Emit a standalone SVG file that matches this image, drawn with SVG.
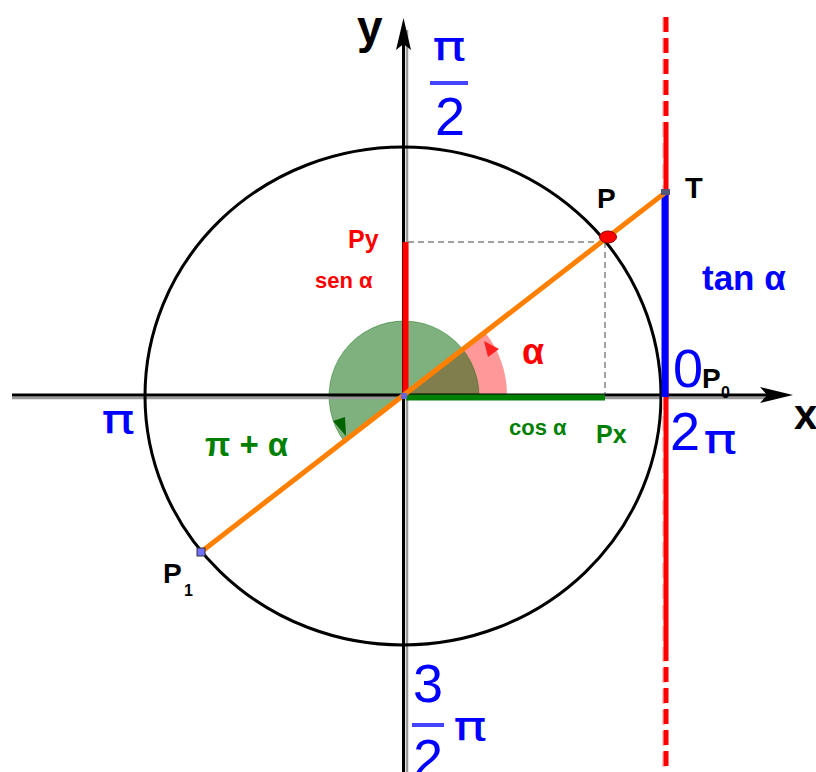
<svg xmlns="http://www.w3.org/2000/svg" width="816" height="772" viewBox="0 0 816 772">
<style>
.lbl{font-family:"Liberation Sans",Arial,sans-serif;font-weight:bold}
.blue{font-family:"Liberation Sans",Arial,sans-serif;fill:#0000ff;text-anchor:middle}
.pi{font-family:"DejaVu Sans",sans-serif;fill:#0000ff;text-anchor:middle;font-size:40px}
.red{fill:#ff0000}
.grn{fill:#008000}
.blk{fill:#000}
.dash{stroke:#444;stroke-width:1;stroke-dasharray:6 4;fill:none}
</style>
<rect width="816" height="772" fill="#fff"/>
<g id="sectors">
<path d="M404,396 L507,396 A103,103 0 0 0 485.2,332.5 Z" fill="#ff0000" fill-opacity="0.4"/>
<polygon points="484,341 499,349 488,357" fill="#ff2020"/>
<path d="M404,396 L479,396 A75,75 0 1 0 344.9,442.2 Z" fill="#006400" fill-opacity="0.5" stroke="#006400" stroke-opacity="0.4" stroke-width="1"/>
<polygon points="333,421 345,417 346,436" fill="#006400"/>
</g>
<g id="axes">
<line x1="12" y1="398" x2="775" y2="398" stroke="#999" stroke-width="2.5"/>
<line x1="12" y1="395" x2="770" y2="395" stroke="#000" stroke-width="3"/>
<polygon points="793,395 760,387 767,395 760,403" fill="#000"/>
<line x1="407" y1="30" x2="407" y2="772" stroke="#999" stroke-width="2.5"/>
<line x1="403.5" y1="44" x2="403.5" y2="772" stroke="#000" stroke-width="3"/>
<polygon points="403.5,18 396,50 403.5,44 411,50" fill="#000"/>
</g>
<g id="circle">
<ellipse cx="403" cy="396" rx="258" ry="249" fill="none" stroke="#000" stroke-width="3"/>
</g>
<g id="tangent">
<line x1="664" y1="17" x2="664" y2="772" stroke="#ffcccc" stroke-width="4" stroke-dasharray="15 6"/>
<line x1="666" y1="17" x2="666" y2="131" stroke="#ff0000" stroke-width="5" stroke-dasharray="15 6"/>
<line x1="666" y1="131" x2="666" y2="661" stroke="#ff0000" stroke-width="5"/>
<line x1="666" y1="667" x2="666" y2="772" stroke="#ff0000" stroke-width="5" stroke-dasharray="15 6"/>
<line x1="665" y1="193" x2="665" y2="397" stroke="#0000ff" stroke-width="7"/>
</g>
<g id="projections">
<line class="dash" x1="408" y1="242" x2="605" y2="242"/>
<line class="dash" x1="605" y1="242" x2="605" y2="394"/>
<line x1="405.5" y1="242" x2="405.5" y2="399" stroke="#ff0000" stroke-width="6"/>
<line x1="406" y1="397.5" x2="605" y2="397.5" stroke="#008000" stroke-width="6"/>
</g>
<g id="radius-line">
<line x1="201" y1="552" x2="666" y2="192" stroke="#ff8000" stroke-width="5"/>
</g>
<g id="points">
<rect x="401" y="393" width="6" height="6" fill="#6666dd"/>
<rect x="197" y="548" width="8" height="8" fill="#7070ff" stroke="#333" stroke-width="1"/>
<rect x="661" y="189" width="9" height="6" fill="#555577"/>
<ellipse cx="608" cy="237" rx="8.5" ry="6" fill="#ff0000" stroke="#800" stroke-width="1"/>
</g>
<g id="labels">
<text class="lbl blk" x="357" y="43" font-size="46">y</text>
<text class="lbl blk" x="794" y="429" font-size="42">x</text>
<text class="lbl blk" x="597" y="208" font-size="28">P</text>
<text class="lbl blk" x="685" y="198" font-size="29">T</text>
<text class="lbl blk" x="163" y="583" font-size="28">P</text>
<text class="lbl blk" x="184" y="596" font-size="16">1</text>
<text class="lbl blk" x="702" y="388" font-size="28">P</text>
<text class="lbl blk" x="721" y="398" font-size="16">0</text>
<text class="lbl red" x="348" y="248" font-size="25">Py</text>
<text class="lbl red" x="315" y="288" font-size="22">sen α</text>
<text class="lbl red" x="522" y="364" font-size="36">α</text>
<text class="lbl grn" x="509" y="435" font-size="22">cos α</text>
<text class="lbl grn" x="596" y="443" font-size="25">Px</text>
<text class="lbl grn" x="205" y="456" font-size="33">π + α</text>
<text class="lbl" x="702" y="290" font-size="35" fill="#0000ff">tan α</text>
<text class="pi" transform="translate(449,60) scale(1.4,1)">π</text>
<rect x="430" y="81" width="38" height="4" fill="#4444ff"/>
<text class="blue" x="450" y="135" font-size="54">2</text>
<text class="pi" transform="translate(118,433) scale(1.4,1)">π</text>
<text class="blue" x="688" y="387" font-size="54">0</text>
<text class="blue" x="685" y="450" font-size="54">2</text>
<text class="pi" transform="translate(720,453) scale(1.4,1)">π</text>
<text class="blue" x="428" y="702" font-size="54">3</text>
<rect x="412" y="723" width="32" height="4" fill="#4444ff"/>
<text class="blue" x="428" y="777" font-size="54">2</text>
<text class="pi" transform="translate(470,740) scale(1.4,1)">π</text>
</g>
</svg>
